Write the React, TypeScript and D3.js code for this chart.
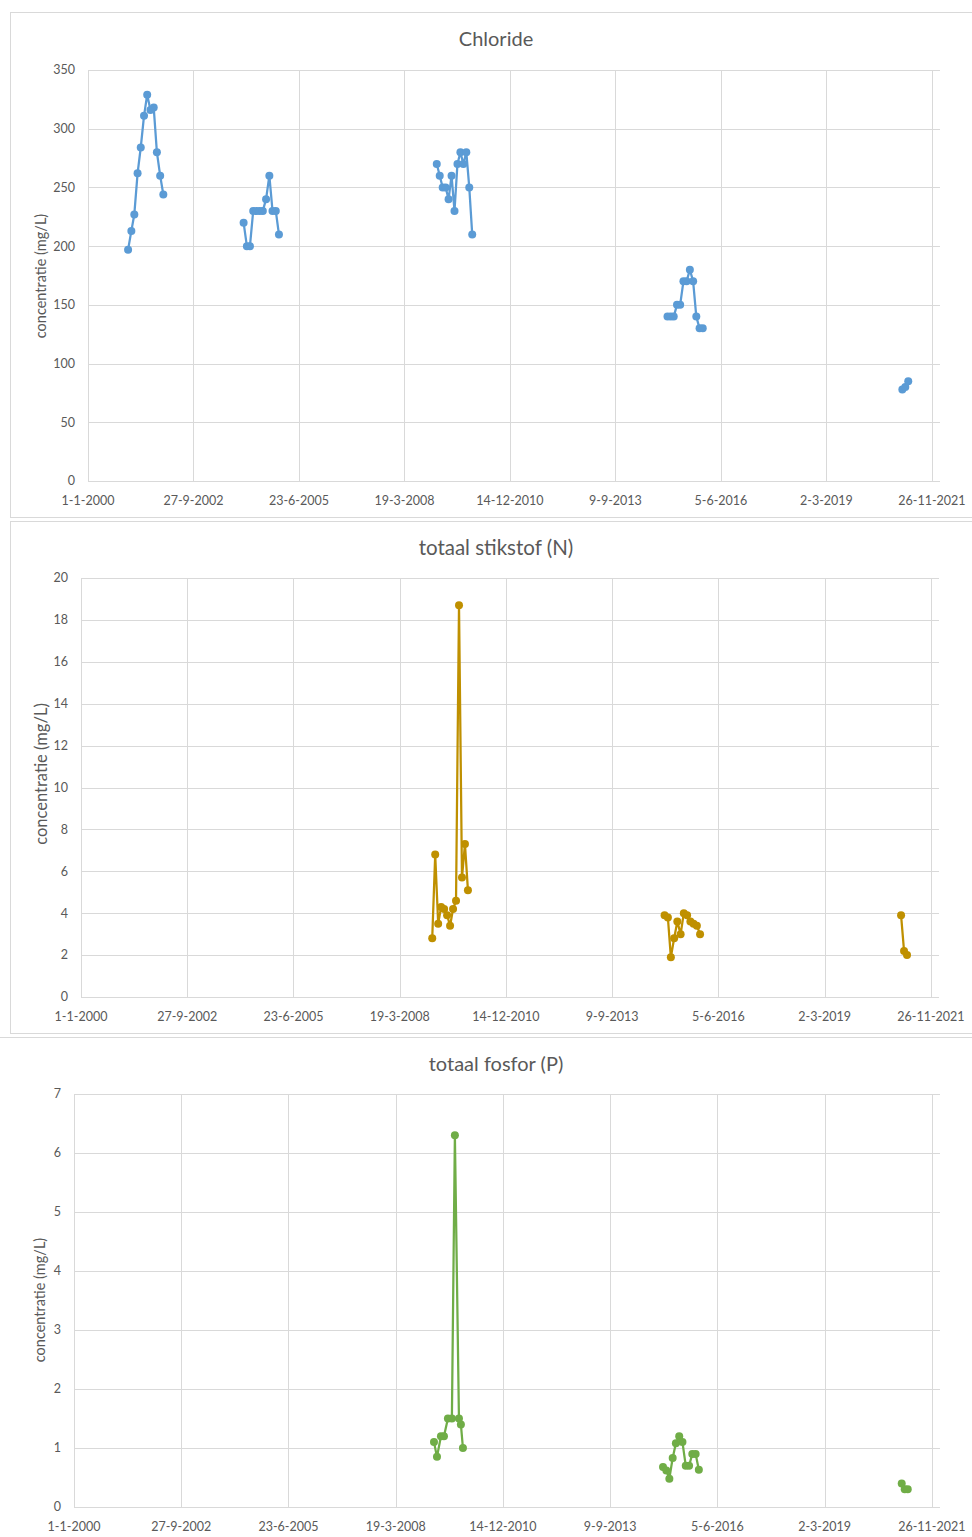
import React from "react";
import * as d3 from "d3";

// ---------- data ----------
const xTickLabels = ["1-1-2000", "27-9-2002", "23-6-2005", "19-3-2008", "14-12-2010", "9-9-2013", "5-6-2016", "2-3-2019", "26-11-2021"];

const chlorideDates = [
  "2001-01-15", "2001-02-15", "2001-03-15", "2001-04-15", "2001-05-15", "2001-06-15", "2001-07-15", "2001-08-15", "2001-09-15", "2001-10-15", "2001-11-15", "2001-12-15",
  "2004-01-15", "2004-02-15", "2004-03-15", "2004-04-15", "2004-05-15", "2004-06-15", "2004-07-15", "2004-08-15", "2004-09-15", "2004-10-15", "2004-11-15", "2004-12-15",
  "2009-01-19", "2009-02-16", "2009-03-16", "2009-04-13", "2009-05-11", "2009-06-08", "2009-07-06", "2009-08-03", "2009-08-31", "2009-09-28", "2009-10-26", "2009-11-23", "2009-12-21",
  "2015-01-15", "2015-02-15", "2015-03-15", "2015-04-15", "2015-05-15", "2015-06-15", "2015-07-15", "2015-08-15", "2015-09-15", "2015-10-15", "2015-11-15", "2015-12-15",
  "2021-02-18", "2021-03-18", "2021-04-15",
];
const chlorideValues = [
  197, 213, 227, 262, 284, 311, 329, 316, 318, 280, 260, 244,
  220, 200, 200, 230, 230, 230, 230, 240, 260, 230, 230, 210,
  270, 260, 250, 250, 240, 260, 230, 270, 280, 270, 280, 250, 210,
  140, 140, 140, 150, 150, 170, 170, 180, 170, 140, 130, 130,
  78, 80, 85,
];

const nitrogenDates = [
  "2009-01-19", "2009-02-16", "2009-03-16", "2009-04-13", "2009-05-11", "2009-06-08", "2009-07-06", "2009-08-03", "2009-08-31", "2009-09-28", "2009-10-26", "2009-11-23", "2009-12-21",
  "2015-01-15", "2015-02-15", "2015-03-15", "2015-04-15", "2015-05-15", "2015-06-15", "2015-07-15", "2015-08-15", "2015-09-15", "2015-10-15", "2015-11-15", "2015-12-15",
  "2021-02-18", "2021-03-18", "2021-04-15",
];
const nitrogenValues = [
  2.8, 6.8, 3.5, 4.3, 4.2, 3.9, 3.4, 4.2, 4.6, 18.7, 5.7, 7.3, 5.1,
  3.9, 3.8, 1.9, 2.8, 3.6, 3.0, 4.0, 3.9, 3.6, 3.5, 3.4, 3.0,
  3.9, 2.2, 2.0,
];

const phosphorusDates = [
  "2009-03-11", "2009-04-08", "2009-05-15", "2009-06-12", "2009-07-19", "2009-08-25", "2009-09-22", "2009-10-30", "2009-11-17", "2009-12-06",
  "2015-01-15", "2015-02-15", "2015-03-15", "2015-04-15", "2015-05-15", "2015-06-15", "2015-07-15", "2015-08-15", "2015-09-15", "2015-10-15", "2015-11-15", "2015-12-15",
  "2021-02-18", "2021-03-18", "2021-04-15",
];
const phosphorusValues = [
  1.1, 0.85, 1.2, 1.2, 1.5, 1.5, 6.3, 1.5, 1.4, 1.0,
  0.68, 0.62, 0.48, 0.83, 1.08, 1.2, 1.1, 0.7, 0.7, 0.9, 0.9, 0.63,
  0.4, 0.3, 0.3,
];

const chlorideTicks = [0, 50, 100, 150, 200, 250, 300, 350];
const nitrogenTicks = [0, 2, 4, 6, 8, 10, 12, 14, 16, 18, 20];
const phosphorusTicks = [0, 1, 2, 3, 4, 5, 6, 7];

// ---------- helpers ----------
const parseISO = d3.utcParse("%Y-%m-%d");
const parseTick = d3.utcParse("%d-%m-%Y");
const X_START = Date.UTC(2000, 0, 1);
const X_END = X_START + 8076 * 864e5;
const FONT = "Lato, 'Open Sans', sans-serif";
const GRID = "#d9d9d9";
const TEXT = "#595959";

type Panel = {
  title: string;
  dates: string[];
  values: number[];
  ticks: number[];
  color: string;
  titleSize: number;
  labelSize: number;
  labelX: number;
  labelY: number;
  box: { x: number; y: number; w: number; h: number };
  plot: { l: number; r: number; t: number; b: number };
};

function ChartPanel({ p }: { p: Panel }) {
  const x = d3.scaleUtc().domain([new Date(X_START), new Date(X_END)]).range([p.plot.l, p.plot.r]);
  const yMax = p.ticks[p.ticks.length - 1];
  const y = d3.scaleLinear().domain([0, yMax]).range([p.plot.b, p.plot.t]);
  const pts = p.dates.map((d, i) => ({ date: parseISO(d) as Date, v: p.values[i] }));
  const segments: { date: Date; v: number }[][] = [];
  pts.forEach((pt, i) => {
    if (i === 0 || +pt.date - +pts[i - 1].date > 200 * 864e5) segments.push([]);
    segments[segments.length - 1].push(pt);
  });
  const line = d3
    .line<{ date: Date; v: number }>()
    .x((d) => x(d.date))
    .y((d) => y(d.v));
  const xTicks = xTickLabels.map((l) => ({ label: l, date: parseTick(l) as Date }));
  return (
    <g>
      <rect x={p.box.x} y={p.box.y} width={p.box.w} height={p.box.h} fill="#fff" stroke={GRID} strokeWidth={1} />
      <text x={496} y={p.box.y + 26} dy="0.35em" textAnchor="middle" fontFamily={FONT} fontSize={p.titleSize} fill={TEXT}>
        {p.title}
      </text>
      {p.ticks.map((t) => (
        <g key={"y" + t}>
          <line x1={p.plot.l} x2={p.plot.r} y1={Math.round(y(t)) + 0.5} y2={Math.round(y(t)) + 0.5} stroke={GRID} strokeWidth={1} />
          <text x={p.plot.l - 13} y={y(t)} dy="0.35em" textAnchor="end" fontFamily={FONT} fontSize={12.5} fill={TEXT}>
            {t}
          </text>
        </g>
      ))}
      {xTicks.map((t) => (
        <g key={t.label}>
          <line x1={Math.round(x(t.date)) + 0.5} x2={Math.round(x(t.date)) + 0.5} y1={p.plot.t} y2={p.plot.b} stroke={GRID} strokeWidth={1} />
          <text x={x(t.date)} y={p.plot.b + 20} dy="0.35em" textAnchor="middle" fontFamily={FONT} fontSize={12.5} fill={TEXT}>
            {t.label}
          </text>
        </g>
      ))}
      <text
        transform={`translate(${p.labelX},${p.labelY}) rotate(-90)`}
        textAnchor="middle"
        dy="0.35em"
        fontFamily={FONT}
        fontSize={p.labelSize}
        fill={TEXT}
      >
        concentratie (mg/L)
      </text>
      {segments.map((s, i) => (
        <path key={"s" + i} d={line(s) || ""} fill="none" stroke={p.color} strokeWidth={2.25} strokeLinejoin="round" />
      ))}
      {pts.map((d, i) => (
        <circle key={"c" + i} cx={x(d.date)} cy={y(d.v)} r={4} fill={p.color} />
      ))}
    </g>
  );
}

const panels: Panel[] = [
  {
    title: "Chloride",
    dates: chlorideDates,
    values: chlorideValues,
    ticks: chlorideTicks,
    color: "#5B9BD5",
    titleSize: 20,
    labelSize: 14.5,
    labelX: 41,
    labelY: 276,
    box: { x: 10.5, y: 12.5, w: 980, h: 505 },
    plot: { l: 88, r: 940, t: 70, b: 481 },
  },
  {
    title: "totaal stikstof (N)",
    dates: nitrogenDates,
    values: nitrogenValues,
    ticks: nitrogenTicks,
    color: "#BF9000",
    titleSize: 20.5,
    labelSize: 16.5,
    labelX: 41,
    labelY: 774,
    box: { x: 10.5, y: 521.5, w: 980, h: 512 },
    plot: { l: 81, r: 939, t: 578, b: 997 },
  },
  {
    title: "totaal fosfor (P)",
    dates: phosphorusDates,
    values: phosphorusValues,
    ticks: phosphorusTicks,
    color: "#70AD47",
    titleSize: 20,
    labelSize: 14.5,
    labelX: 40,
    labelY: 1300,
    box: { x: -1.5, y: 1037.5, w: 990, h: 520 },
    plot: { l: 74, r: 940, t: 1094, b: 1507 },
  },
];

export default function App() {
  return (
    <svg
      width={972}
      height={1537}
      viewBox="0 0 972 1537"
      style={{ position: "absolute", left: 0, top: 0, background: "#fff" }}
    >
      <rect x={0} y={0} width={972} height={1537} fill="#fff" />
      {panels.map((p) => (
        <ChartPanel key={p.title} p={p} />
      ))}
    </svg>
  );
}
